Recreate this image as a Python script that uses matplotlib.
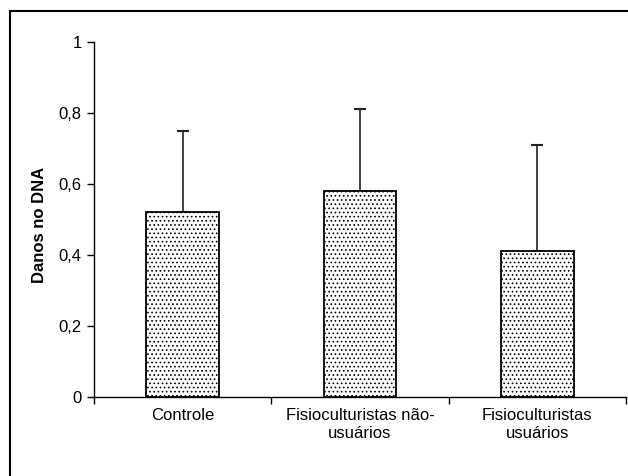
import matplotlib
matplotlib.use("Agg")
import matplotlib.pyplot as plt
from matplotlib.patches import Rectangle

plt.rcParams['font.family'] = ['Liberation Sans', 'DejaVu Sans']
plt.rcParams['hatch.color'] = '#8c8c8c'
plt.rcParams['hatch.linewidth'] = 0.7

categorias = ['Controle', 'Fisioculturistas não-\nusuários', 'Fisioculturistas\nusuários']
medias = [0.52, 0.58, 0.41]
desvios = [0.23, 0.23, 0.30]
yticks = [0, 0.2, 0.4, 0.6, 0.8, 1]
ytick_labels = ['0', '0,2', '0,4', '0,6', '0,8', '1']

fig = plt.figure(figsize=(6.28, 4.76), dpi=100)
ax = fig.add_axes([94 / 628, 1 - 397 / 476, 532 / 628, 355 / 476])

x = list(range(len(categorias)))
ax.bar(x, medias, width=0.41, color='white', edgecolor='black',
       linewidth=1.3, hatch='....', zorder=2)
ax.errorbar(x, medias, yerr=[[0] * len(x), desvios], fmt='none',
            ecolor='#222222', elinewidth=1.2, capsize=4, capthick=1.5, zorder=1)

ax.set_xlim(-0.5, 2.5)
ax.set_ylim(0, 1)
ax.set_yticks(yticks)
ax.set_yticklabels(ytick_labels, fontsize=12)
ax.set_xticks([-0.5, 0.5, 1.5, 2.5])
ax.set_xticklabels([])
ax.set_xticks(x, minor=True)
ax.set_xticklabels(categorias, minor=True, fontsize=12, linespacing=1.25)
ax.tick_params(axis='x', which='minor', length=0, pad=8)
ax.tick_params(axis='both', which='major', length=5, width=1, direction='out')
ax.tick_params(axis='y', pad=4)

for s in ['top', 'right']:
    ax.spines[s].set_visible(False)
for s in ['left', 'bottom']:
    ax.spines[s].set_linewidth(1)

ax.set_ylabel('Danos no DNA', fontsize=12, fontweight='bold')
ax.yaxis.set_label_coords(-0.089, 0.485)

frame = Rectangle((10 / 628, -0.1), 1.1, 1.1 - 11 / 476, transform=fig.transFigure,
                  fill=False, edgecolor='black', linewidth=1.5, clip_on=False)
fig.patches.append(frame)

fig.savefig('out.png', dpi=100)
